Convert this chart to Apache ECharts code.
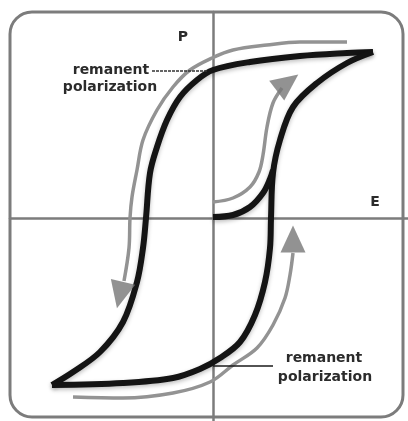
<!DOCTYPE html>
<html>
<head>
<meta charset="utf-8">
<script src="https://cdn.jsdelivr.net/npm/echarts@6/dist/echarts.min.js"></script>
<style>
  html, body { margin: 0; padding: 0; background: #fff; }
  #loop { width: 408px; height: 421px; }
</style>
</head>
<body>
<div id="loop"></div>
<script>
// hysteresis loop, E (field) vs P (polarization), arbitrary units
var upperBranch = [
  [16.0, 16.6], [13.4, 16.5], [8.7, 16.2], [3.7, 15.6], [0, 14.8], [-1.6, 13.8],
  [-3.3, 12.1], [-4.6, 9.8], [-5.6, 7.1], [-6.3, 4.5], [-6.7, 0], [-7.0, -3.0],
  [-7.6, -6.4], [-9.0, -10.4], [-11.3, -13.4], [-14.0, -15.4], [-16.1, -16.7]
];
var lowerBranch = [
  [-16.1, -16.7], [-9.0, -16.5], [-4.0, -16.0], [-1.3, -15.1], [0.7, -14.0],
  [2.7, -12.4], [4.2, -9.7], [5.2, -6.4], [5.7, -3.0], [5.8, 0], [6.0, 4.5],
  [6.7, 7.8], [8.0, 11.1], [10.4, 13.5], [13.4, 15.5], [16.0, 16.6]
];
var virginCurve = [[0, 0.1], [2.0, 0.3], [3.7, 1.1], [5.0, 2.5], [5.7, 3.9], [6.0, 4.8]];

// gray direction arrows
var arrowVirgin = [[0, 1.6], [2.0, 2.0], [3.7, 3.1], [4.6, 4.6], [5.0, 6.3], [5.4, 9.1], [6.0, 11.5], [6.9, 13.0]];
var arrowDown = [
  [13.4, 17.6], [8.7, 17.6], [5.4, 17.3], [2.0, 16.8], [-0.1, 16.0], [-2.3, 14.8],
  [-4.0, 13.1], [-5.6, 10.8], [-7.0, 7.8], [-7.6, 4.8], [-8.1, 2.1], [-8.3, 0],
  [-8.4, -3.0], [-8.9, -6.3]
];
var arrowUp = [
  [-14.0, -17.9], [-9.0, -18.0], [-4.0, -17.5], [-0.3, -16.4], [2.0, -14.7],
  [4.4, -13.0], [6.0, -10.7], [7.2, -8.0], [7.7, -5.7], [8.0, -3.5]
];
// arrow heads: [E, P, rotation]
var arrowHeads = [[7.45, 13.55, -53], [-9.3, -7.7, 167], [8.0, -2.1, 0]];

var leaderTop = [[-6.1, 14.7], [-0.6, 14.7]];
var leaderBottom = [[0, -14.8], [6.0, -14.8]];

var chart = echarts.init(document.getElementById('loop'));

var blackLine = { color: '#141414', width: 6, cap: 'butt', shadowColor: 'rgba(0,0,0,0.25)', shadowBlur: 4, shadowOffsetY: 2 };
var grayLine = { color: '#939393', width: 3.5, cap: 'butt' };
var txt = { fontFamily: 'DejaVu Sans', fontWeight: 'bold', fontSize: 14, fill: '#2b2b2b', textAlign: 'center', textVerticalAlign: 'middle' };

function lineSeries(data, style) {
  return { type: 'line', data: data, smooth: 0.35, symbol: 'none', lineStyle: style, silent: true, z: 3 };
}

chart.setOption({
  animation: false,
  grid: { left: 10, right: 0, top: 12, bottom: 0 },
  xAxis: {
    type: 'value', min: -20.3, max: 19.5,
    axisLine: { onZero: true, lineStyle: { color: '#7c7c7c', width: 2.5 } },
    axisTick: { show: false }, axisLabel: { show: false }, splitLine: { show: false }
  },
  yAxis: {
    type: 'value', min: -20.3, max: 20.6,
    axisLine: { onZero: true, lineStyle: { color: '#7c7c7c', width: 2.5 } },
    axisTick: { show: false }, axisLabel: { show: false }, splitLine: { show: false }
  },
  graphic: [
    { type: 'rect', shape: { x: 10, y: 12, width: 393, height: 405, r: 22 }, style: { fill: 'none', stroke: '#7c7c7c', lineWidth: 3 }, z: 1 },
    { type: 'text', x: 183, y: 37, style: Object.assign({ text: 'P' }, txt), z: 10 },
    { type: 'text', x: 375, y: 202, style: Object.assign({ text: 'E' }, txt), z: 10 },
    { type: 'text', x: 111, y: 70, style: Object.assign({ text: 'remanent' }, txt), z: 10 },
    { type: 'text', x: 110, y: 87, style: Object.assign({ text: 'polarization' }, txt), z: 10 },
    { type: 'text', x: 324, y: 358, style: Object.assign({ text: 'remanent' }, txt), z: 10 },
    { type: 'text', x: 325, y: 377, style: Object.assign({ text: 'polarization' }, txt), z: 10 }
  ],
  series: [
    lineSeries(arrowVirgin, grayLine),
    lineSeries(arrowDown, grayLine),
    lineSeries(arrowUp, grayLine),
    {
      type: 'scatter', silent: true, z: 3,
      data: arrowHeads.map(function (a) {
        return { value: [a[0], a[1]], symbolRotate: a[2] };
      }),
      symbol: 'triangle', symbolSize: [25, 27],
      itemStyle: { color: '#777777' }
    },
    lineSeries(upperBranch, blackLine),
    lineSeries(lowerBranch, blackLine),
    lineSeries(virginCurve, blackLine),
    { type: 'line', data: leaderTop, symbol: 'none', silent: true, lineStyle: { color: '#333', width: 1.5, type: [3, 1] }, z: 4 },
    { type: 'line', data: leaderBottom, symbol: 'none', silent: true, lineStyle: { color: '#1a1a1a', width: 1.5 }, z: 4 }
  ]
});
</script>
</body>
</html>
